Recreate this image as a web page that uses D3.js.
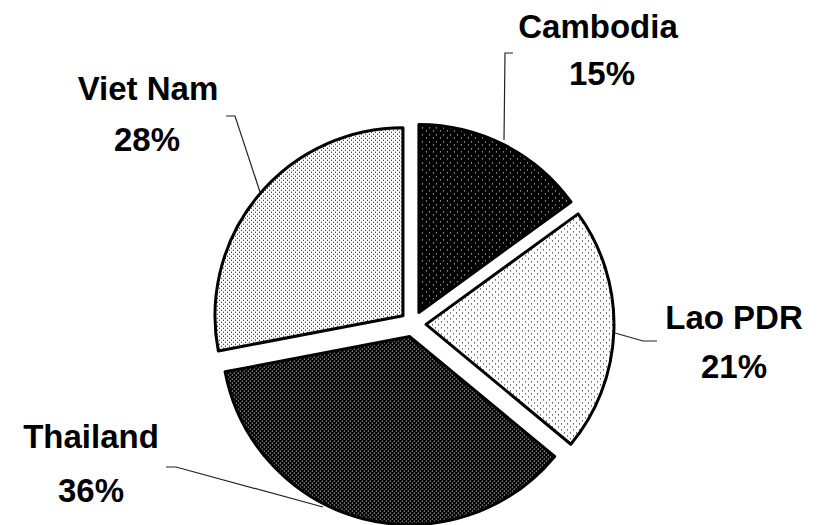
<!DOCTYPE html>
<html>
<head>
<meta charset="utf-8">
<script src="https://cdn.jsdelivr.net/npm/d3@7"></script>
<style>
  html, body { margin: 0; padding: 0; background: #fff; }
  svg { display: block; }
  text { font-family: "Liberation Sans", Arial, sans-serif; font-weight: bold; fill: #000; }
</style>
</head>
<body>
<svg id="chart" width="822" height="525"></svg>
<script>
const categories = ["Cambodia", "Lao PDR", "Thailand", "Viet Nam"];
const values = [15, 21, 36, 28];
const percentLabels = ["15%", "21%", "36%", "28%"];

const W = 822, H = 525;
const cx = 413, cy = 324, R = 188, explode = 13;

const svg = d3.select("#chart");
const defs = svg.append("defs");

function dotPattern(id, size, bg, fg, dots) {
  const p = defs.append("pattern").attr("id", id)
    .attr("patternUnits", "userSpaceOnUse").attr("width", size).attr("height", size);
  p.append("rect").attr("width", size).attr("height", size).attr("fill", bg);
  dots.forEach(([x, y]) => p.append("rect").attr("x", x).attr("y", y)
    .attr("width", 1).attr("height", 1).attr("fill", fg));
}
dotPattern("pCam", 7, "#000", "#fff", [[0, 0], [3, 4]]);
dotPattern("pLao", 6, "#fff", "#000", [[0, 0], [3, 3]]);
dotPattern("pTha", 4, "#000", "#fff", [[0, 0], [2, 2]]);
dotPattern("pVie", 4, "#fff", "#000", [[0, 0], [2, 2]]);
const fills = ["url(#pCam)", "url(#pLao)", "url(#pTha)", "url(#pVie)"];

const pie = d3.pie().sort(null).value(d => d)(values);
const arc = d3.arc().innerRadius(0).outerRadius(R);

const g = svg.append("g").attr("transform", `translate(${cx},${cy})`);
g.selectAll("path.slice").data(pie).join("path")
  .attr("class", "slice")
  .attr("d", arc)
  .attr("transform", d => {
    const a = (d.startAngle + d.endAngle) / 2;
    return `translate(${explode * Math.sin(a)},${-explode * Math.cos(a)})`;
  })
  .attr("fill", (d, i) => fills[i])
  .attr("stroke", "#000")
  .attr("stroke-width", 3)
  .attr("stroke-linejoin", "round");

// leader lines
const leaders = [
  [[513, 53], [505, 53], [504, 140]],
  [[657, 341], [643, 341], [615, 333]],
  [[166, 467], [176, 467], [323, 507]],
  [[226, 116], [235, 116], [260, 192]]
];
svg.selectAll("polyline.leader").data(leaders).join("polyline")
  .attr("class", "leader")
  .attr("points", d => d.map(p => p.join(",")).join(" "))
  .attr("fill", "none").attr("stroke", "#222").attr("stroke-width", 1.2);

// labels
const labelPos = [[598, 38, 602, 85], [734, 329, 734, 378], [91, 448, 91, 502], [148, 100, 147, 151]];
const lg = svg.selectAll("g.label").data(categories).join("g").attr("class", "label");
lg.append("text")
  .attr("text-anchor", "middle").attr("font-size", 33)
  .attr("transform", (d, i) => `translate(${labelPos[i][0]},${labelPos[i][1]})`)
  .text(d => d);
lg.append("text")
  .attr("text-anchor", "middle").attr("font-size", 33)
  .attr("transform", (d, i) => `translate(${labelPos[i][2]},${labelPos[i][3]})`)
  .text((d, i) => percentLabels[i]);
</script>
</body>
</html>
